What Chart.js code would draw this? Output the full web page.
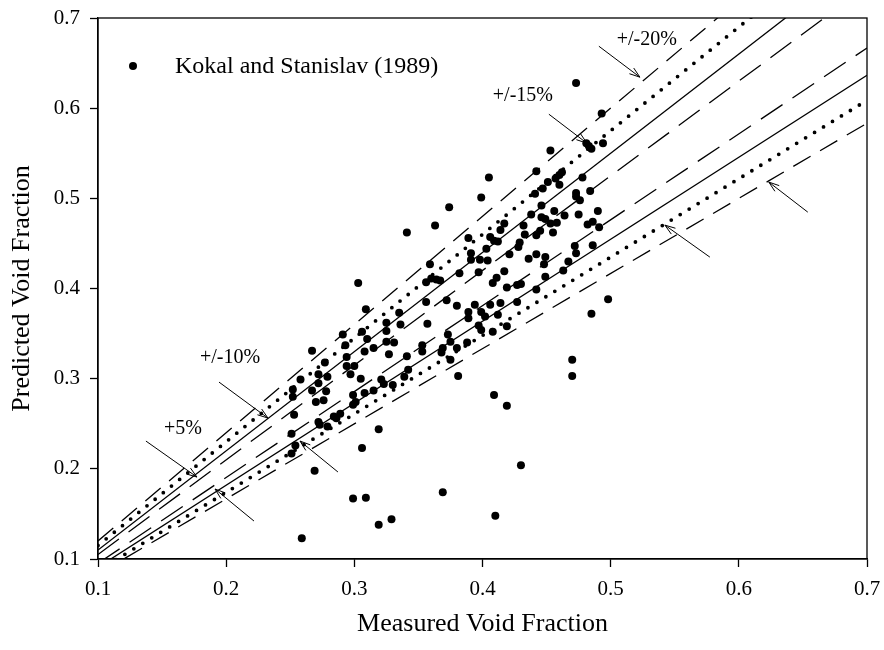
<!DOCTYPE html>
<html lang="en">
<head>
  <meta charset="UTF-8">
  <title>Predicted vs Measured Void Fraction</title>
  <script src="https://cdn.jsdelivr.net/npm/chart.js"></script>
  <style>
    html, body { margin: 0; padding: 0; background: #fff; }
    #wrap { width: 884px; height: 650px; }
  </style>
</head>
<body>
  <div id="wrap"><canvas id="chart" width="884" height="650"></canvas></div>

  <script>
    const serif = '"Liberation Serif", "Times New Roman", serif';

    // Kokal and Stanislav (1989) data
    const measured = [
      0.303, 0.309, 0.291, 0.306, 0.310, 0.293, 0.325, 0.336, 0.335, 0.325,
      0.325, 0.331, 0.267, 0.308, 0.315, 0.294, 0.277, 0.327, 0.341, 0.353,
      0.353, 0.357, 0.294, 0.300, 0.258, 0.272, 0.279, 0.297, 0.305, 0.342,
      0.339, 0.252, 0.252, 0.267, 0.272, 0.278, 0.270, 0.276, 0.321, 0.323,
      0.330, 0.315, 0.308, 0.299, 0.301, 0.299, 0.289, 0.284, 0.286, 0.272,
      0.273, 0.279, 0.253, 0.251, 0.254, 0.251, 0.269, 0.319, 0.306, 0.299,
      0.309, 0.319, 0.329, 0.356,
      0.408, 0.419, 0.427, 0.430, 0.442, 0.372, 0.380, 0.394, 0.406, 0.414,
      0.427, 0.389, 0.399, 0.389, 0.402, 0.412, 0.397, 0.399, 0.408, 0.419,
      0.373, 0.375, 0.388, 0.380, 0.369, 0.368, 0.375, 0.381, 0.409, 0.419,
      0.470, 0.470, 0.485, 0.498,
      0.473, 0.493, 0.453, 0.481, 0.485, 0.483, 0.494, 0.442, 0.405, 0.462,
      0.460, 0.478, 0.457, 0.451, 0.460, 0.447, 0.441, 0.473, 0.484, 0.399,
      0.374, 0.363, 0.341, 0.446, 0.473, 0.476, 0.490, 0.456, 0.438, 0.446,
      0.449, 0.453, 0.458, 0.464, 0.475, 0.482, 0.486, 0.491, 0.417, 0.414,
      0.432, 0.433, 0.445, 0.455, 0.442, 0.389, 0.406, 0.409, 0.412, 0.429,
      0.428, 0.391, 0.391, 0.403, 0.398, 0.404, 0.359, 0.382, 0.397, 0.421,
      0.442, 0.436, 0.449, 0.448, 0.472, 0.473, 0.486, 0.467, 0.463, 0.417,
      0.411, 0.360, 0.364, 0.367, 0.356, 0.449,
      0.259, 0.369, 0.410, 0.430
    ];
    const predicted = [
      0.406, 0.377, 0.349, 0.352, 0.344, 0.337, 0.362, 0.360, 0.373, 0.353,
      0.341, 0.340, 0.331, 0.330, 0.334, 0.324, 0.318, 0.327, 0.325, 0.337,
      0.330, 0.361, 0.314, 0.314, 0.299, 0.305, 0.302, 0.305, 0.300, 0.310,
      0.302, 0.288, 0.280, 0.287, 0.295, 0.286, 0.274, 0.276, 0.299, 0.294,
      0.293, 0.287, 0.284, 0.282, 0.274, 0.271, 0.261, 0.258, 0.256, 0.252,
      0.249, 0.247, 0.260, 0.239, 0.226, 0.217, 0.198, 0.244, 0.223, 0.167,
      0.168, 0.138, 0.144, 0.385,
      0.406, 0.401, 0.404, 0.405, 0.399, 0.387, 0.381, 0.382, 0.382, 0.384,
      0.385, 0.374, 0.374, 0.367, 0.369, 0.371, 0.359, 0.354, 0.352, 0.358,
      0.349, 0.341, 0.340, 0.334, 0.334, 0.329, 0.321, 0.303, 0.282, 0.270,
      0.321, 0.303, 0.372, 0.388,
      0.628, 0.594, 0.553, 0.561, 0.555, 0.558, 0.561, 0.530, 0.523, 0.529,
      0.526, 0.523, 0.522, 0.518, 0.515, 0.511, 0.505, 0.506, 0.508, 0.501,
      0.490, 0.470, 0.462, 0.492, 0.502, 0.498, 0.486, 0.486, 0.482, 0.479,
      0.477, 0.472, 0.473, 0.481, 0.482, 0.471, 0.474, 0.468, 0.472, 0.465,
      0.470, 0.460, 0.464, 0.462, 0.459, 0.456, 0.457, 0.453, 0.452, 0.451,
      0.446, 0.439, 0.432, 0.444, 0.432, 0.431, 0.427, 0.417, 0.418, 0.438,
      0.438, 0.433, 0.435, 0.427, 0.447, 0.439, 0.448, 0.430, 0.420, 0.419,
      0.412, 0.411, 0.410, 0.409, 0.407, 0.413,
      0.123, 0.174, 0.148, 0.204
    ];

    // error band lines: end points at x = 0.1 and x = 0.7
    const bandX = [0.1, 0.7];
    const plus5 = [0.105, 0.735];
    const plus10 = [0.110, 0.770];
    const plus15 = [0.115, 0.805];
    const plus20 = [0.120, 0.840];
    const minus5 = [0.0952, 0.6667];
    const minus10 = [0.0909, 0.6364];
    const minus15 = [0.0870, 0.6087];
    const minus20 = [0.0833, 0.5833];

    const xTicks = [0.1, 0.2, 0.3, 0.4, 0.5, 0.6, 0.7];
    const yTicks = [0.1, 0.2, 0.3, 0.4, 0.5, 0.6, 0.7];

    // annotation arrows [tailX, tailY, tipX, tipY] and their labels
    const arrows = [
      [0.4908, 0.6687, 0.5228, 0.6344],
      [0.4518, 0.5933, 0.4814, 0.5612],
      [0.1944, 0.2962, 0.2326, 0.2563],
      [0.1374, 0.2308, 0.1772, 0.1909],
      [0.2217, 0.1421, 0.1913, 0.1776],
      [0.2872, 0.1965, 0.2576, 0.2308],
      [0.5774, 0.4348, 0.5423, 0.4703],
      [0.6538, 0.4847, 0.6234, 0.5180]
    ];
    const noteText = ['+/-20%', '+/-15%', '+/-10%', '+5%'];
    const noteX = [0.5282, 0.4315, 0.2030, 0.1663];
    const noteY = [0.6754, 0.6133, 0.3228, 0.2441];

    const points = measured.map((m, i) => ({ x: m, y: predicted[i] }));
    const band = ys => bandX.map((x, i) => ({ x, y: ys[i] }));

    function bandLine(ys, style) {
      const ds = { data: band(ys), showLine: true, pointRadius: 0, borderColor: '#000',
                   borderWidth: 1.3, fill: false, tension: 0 };
      if (style === 'long') ds.borderDash = [26, 12];
      if (style === 'dash') ds.borderDash = [20, 11];
      if (style === 'dot') { ds.borderDash = [0, 10.5]; ds.borderWidth = 3.8; ds.borderCapStyle = 'round'; }
      return ds;
    }

    const framePlugin = {
      id: 'frame',
      afterDraw(chart) {
        const { ctx, chartArea: a, scales } = chart;
        ctx.save();
        ctx.strokeStyle = '#000';
        ctx.lineWidth = 1.3;
        ctx.strokeRect(a.left, a.top, a.right - a.left, a.bottom - a.top);

        // arrows
        ctx.lineWidth = 1;
        arrows.forEach(([x0, y0, x1, y1]) => {
          const px0 = scales.x.getPixelForValue(x0), py0 = scales.y.getPixelForValue(y0);
          const px1 = scales.x.getPixelForValue(x1), py1 = scales.y.getPixelForValue(y1);
          const ang = Math.atan2(py1 - py0, px1 - px0);
          ctx.beginPath();
          ctx.moveTo(px0, py0);
          ctx.lineTo(px1, py1);
          ctx.moveTo(px1 - 11 * Math.cos(ang - 0.33), py1 - 11 * Math.sin(ang - 0.33));
          ctx.lineTo(px1, py1);
          ctx.lineTo(px1 - 11 * Math.cos(ang + 0.33), py1 - 11 * Math.sin(ang + 0.33));
          ctx.stroke();
        });

        // labels
        ctx.fillStyle = '#000';
        ctx.font = '20px ' + serif;
        ctx.textAlign = 'center';
        ctx.textBaseline = 'middle';
        noteText.forEach((t, i) => {
          ctx.fillText(t, scales.x.getPixelForValue(noteX[i]), scales.y.getPixelForValue(noteY[i]));
        });

        // legend
        const lx = a.left + 35, ly = a.top + 48;
        ctx.beginPath();
        ctx.arc(lx, ly, 4, 0, Math.PI * 2);
        ctx.fill();
        ctx.font = '24px ' + serif;
        ctx.textAlign = 'left';
        ctx.fillText(chart.data.datasets[0].label, a.left + 77, ly + 1);
        ctx.restore();
      }
    };

    new Chart(document.getElementById('chart'), {
      type: 'scatter',
      data: {
        datasets: [
          { label: 'Kokal and Stanislav (1989)', data: points, pointRadius: 4,
            pointBackgroundColor: '#000', pointBorderWidth: 0 },
          bandLine(plus5, 'long'), bandLine(minus5, 'long'),
          bandLine(plus10, 'solid'), bandLine(minus10, 'solid'),
          bandLine(plus15, 'dot'), bandLine(minus15, 'dot'),
          bandLine(plus20, 'dash'), bandLine(minus20, 'dash')
        ]
      },
      options: {
        responsive: false,
        animation: false,
        layout: { padding: { left: 0, right: 17, top: 18, bottom: 0 } },
        plugins: { legend: { display: false }, tooltip: { enabled: false } },
        scales: {
          x: {
            type: 'linear', min: 0.1, max: 0.7,
            afterBuildTicks: s => { s.ticks = xTicks.map(v => ({ value: v })); },
            ticks: { callback: v => v.toFixed(1), color: '#000', padding: 10,
                     font: { family: serif, size: 21 } },
            grid: { drawOnChartArea: false, tickLength: 8, color: '#000', tickWidth: 1.3 },
            border: { color: '#000', width: 1.3 },
            title: { display: true, text: 'Measured Void Fraction', color: '#000',
                     font: { family: serif, size: 26 }, padding: { top: 0, bottom: 10 } },
            afterFit: s => { s.height = 91; s.paddingLeft = 0; s.paddingRight = 0; }
          },
          y: {
            type: 'linear', min: 0.1, max: 0.7,
            afterBuildTicks: s => { s.ticks = yTicks.map(v => ({ value: v })); },
            ticks: { callback: v => v.toFixed(1), color: '#000', padding: 10,
                     font: { family: serif, size: 21 } },
            grid: { drawOnChartArea: false, tickLength: 8, color: '#000', tickWidth: 1.3 },
            border: { color: '#000', width: 1.3 },
            title: { display: true, text: 'Predicted Void Fraction', color: '#000',
                     font: { family: serif, size: 26 }, padding: { top: 7, bottom: 0 } },
            afterFit: s => { s.width = 98; s.paddingTop = 0; s.paddingBottom = 0; }
          }
        }
      },
      plugins: [framePlugin]
    });
  </script>
</body>
</html>
